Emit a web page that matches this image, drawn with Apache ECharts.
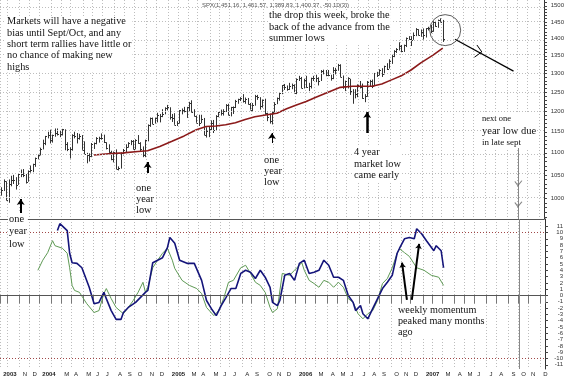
<!DOCTYPE html>
<html><head><meta charset="utf-8">
<script src="https://cdn.jsdelivr.net/npm/echarts@6/dist/echarts.min.js"></script>
<style>html,body{margin:0;padding:0;background:#fff}#c{width:567px;height:380px}</style>
</head><body><div id="c"></div>
<script>
// ---------- data ----------
const firstWeek = '2003-09-12';
const weekCount = 223;
const monthLetters = ['J','F','M','A','M','J','J','A','S','O','N','D'];
const priceTicks = [1000,1050,1100,1150,1200,1250,1300,1350,1400,1450,1500];
const momTicks = [-11,-10,-9,-8,-7,-6,-5,-4,-3,-2,-1,0,1,2,3,4,5,6,7,8,9,10,11];

const priceHigh = [1023,1040,1036,1040,1048,1050,1045,1054,1062,1063,1052,1060,1071,1075,1089,1096,
1112,1131,1140,1150,1155,1143,1158,1158,1152,1157,1156,1125,1113,1144,1150,1147,1145,1142,1127,1100,1099,1123,1124,1137,1138,1146,1143,1125,1120,1105,1103,1108,1069,1101,1109,1120,1125,1130,1130,1132,1142,1125,1115,1131,1168,1185,1185,1185,1197,1194,1206,1211,1217,
1211,1194,1196,1176,1204,1208,1212,1212,1225,1229,1206,1190,1192,1192,1184,1161,1164,1178,1179,1191,1199,1205,1206,1219,1220,1212,1213,1230,1233,1237,1245,1236,1235,1222,1222,1243,1243,1237,1231,1233,1197,1195,1200,1224,1236,1249,1269,1272,1268,1275,1273,1271,
1287,1294,1291,1286,1294,1275,1289,1294,1297,1290,1310,1311,1310,1310,1297,1318,1316,1327,1326,1295,1281,1290,1286,1258,1258,1271,1280,1273,1245,1280,1283,1284,1302,1305,1312,1315,1322,1329,1340,1353,1366,1372,1389,1381,1382,1403,1407,1407,1418,1431,1428,1427,
1430,1431,1435,1441,1452,1453,1457,1461,1456];
const priceLow = [1005,1015,995,990,1025,1030,1018,1028,1045,1045,1031,1035,1055,1056,1068,1085,
1094,1108,1118,1134,1122,1124,1138,1141,1137,1141,1106,1104,1087,1105,1134,1122,1131,1107,1096,1076,1080,1090,1109,1120,1124,1131,1123,1108,1100,1083,1078,1063,1060,1064,1094,1101,1112,1118,1108,1108,1121,1102,1090,1090,1127,1162,1169,1170,1173,1173,1186,1193,1203,
1180,1174,1167,1164,1170,1193,1198,1184,1199,1198,1188,1172,1164,1171,1142,1136,1137,1154,1147,1154,1186,1190,1190,1199,1191,1188,1194,1209,1220,1227,1223,1220,1218,1205,1200,1215,1230,1205,1210,1192,1176,1170,1168,1198,1219,1228,1245,1256,1254,1256,1258,1248,
1245,1280,1261,1260,1262,1253,1260,1280,1277,1268,1280,1298,1293,1293,1281,1285,1298,1308,1291,1259,1253,1260,1243,1220,1234,1237,1260,1233,1224,1238,1265,1261,1266,1291,1295,1291,1298,1310,1314,1327,1346,1358,1365,1360,1361,1375,1396,1378,1396,1407,1409,1405,
1397,1403,1424,1416,1420,1435,1432,1450,1390];
const priceClose = [1018,1036,996,1029,1039,1039,1028,1051,1053,1050,1035,1058,1061,1074,1088,1095,
1108,1122,1139,1141,1131,1142,1146,1144,1144,1156,1120,1110,1108,1141,1139,1134,1140,1107,1098,1095,1093,1121,1122,1136,1135,1134,1125,1112,1101,1086,1101,1064,1065,1099,1107,1113,1123,1128,1110,1131,1122,1108,1095,1130,1167,1184,1170,1183,1191,1189,1195,1210,1212,
1186,1184,1167,1171,1203,1205,1201,1211,1222,1200,1190,1172,1172,1181,1143,1152,1157,1172,1154,1190,1198,1197,1201,1217,1191,1211,1212,1228,1233,1234,1226,1231,1220,1205,1218,1241,1237,1215,1229,1196,1187,1177,1198,1220,1234,1248,1268,1265,1259,1267,1268,1248,
1285,1287,1261,1284,1264,1266,1287,1289,1287,1281,1307,1302,1295,1295,1289,1311,1310,1325,1291,1267,1280,1288,1253,1251,1245,1270,1265,1236,1240,1278,1280,1267,1302,1295,1311,1299,1320,1314,1336,1349,1365,1369,1377,1364,1380,1401,1400,1396,1409,1427,1410,1418,
1409,1430,1430,1422,1449,1438,1456,1451,1400];

const maIdx = [38,44,50,56,60,65,70,75,80,84,88,92,96,100,104,109,113,117,121,125,129,134,139,144,148,152,156,160,164,168,172,177,181];
const maVal = [1095,1098,1100,1103,1105,1115,1127,1140,1155,1163,1164,1167,1172,1180,1187,1192,1196,1207,1217,1226,1237,1250,1263,1266,1266,1266,1272,1283,1294,1310,1330,1352,1372];

const navyIdx = [23,24,27,28,29,31,33,36,38,40,42,43,45,47,49,50,52,55,57,59,60,62,64,66,68,69,71,73,76,79,82,84,86,88,90,92,94,96,98,100,102,104,106,108,110,111,113,114,116,118,120,122,124,126,128,130,132,134,136,138,140,142,144,145,147,148,150,152,154,156,158,160,162,163,165,167,169,170,172,174,177,178,180,181];
const navyVal = [10.3,11.4,10.3,6.7,5.2,5.1,4.4,1.3,-1.3,-1.1,0.5,-0.5,-2.4,-3.8,-3.8,-2.7,-1.9,-1.1,-0.3,0.5,0.8,5.2,5.6,6.0,7.6,9.2,8.3,5.6,5.1,5.1,2.4,-0.8,-2.1,-3.2,-1.6,-0.3,1.1,1.1,3.5,4.0,3.7,2.7,4.0,2.9,1.3,-1.1,-1.6,-0.8,3.2,3.5,2.4,5.1,5.6,3.5,3.7,4.0,5.6,4.8,2.9,2.9,2.4,0,-1.1,-2.4,-1.6,-2.9,-3.7,-2.1,-0.5,1.1,2.1,3.2,6.7,7.5,9.0,9.2,9.0,10.6,9.8,8.7,7.1,7.9,7.1,4.4];
const greenIdx = [15,17,19,21,22,25,27,28,29,30,32,35,38,40,42,43,45,47,50,52,54,56,58,59,60,62,64,66,68,70,71,74,77,80,82,84,87,89,91,93,95,98,100,102,104,106,108,110,111,113,115,118,120,122,123,124,126,128,130,132,134,136,138,140,142,144,146,148,150,152,154,156,158,160,162,163,165,167,170,173,176,179,181];
const greenVal = [4.0,5.6,6.8,8.7,7.9,7.5,6.7,4.4,1.6,0.8,0.5,-1.3,-2.7,-2.4,0.3,1.1,-0.5,-1.9,-2.9,-1.9,-0.8,0.5,2.1,0.5,1.3,4.4,5.6,6.7,7.5,5.6,4.3,2.4,1.6,1.1,0.3,-1.9,-3.2,-2.4,-0.5,2.1,2.4,4.4,4.8,3.5,2.1,1.6,0.5,-1.9,-2.7,-2.1,3.5,3.2,4.0,4.8,5.2,4.0,2.4,1.9,1.3,2.4,2.1,1.3,2.1,1.3,-0.5,-1.1,-2.9,-3.7,-2.9,-2.4,-0.8,1.9,2.7,4.4,6.7,7.4,6.8,6.2,4.4,4.0,3.2,2.9,1.6];

// hand-drawn annotations (week index, price / momentum value)
const lowArrows = [[8,969,998,2],[60,1054,1079,2],[111,1123,1147,1],[150,1147,1199,2.5]];
const projection = [[186,1398],[210,1307]];
const projHead = [[[194.5,1381],[196.9,1361]],[[193.9,1346],[196.9,1361]]];
const circleAt = [182,1425];
const momArrows = [[165.5,-0.7,163.8,5.2],[168.4,-0.7,170.8,8.2]];
const dueWeek = 212, dueTop = 1123;
const dueMarks = [1032,987];

const titleText = 'SPX(1,451.16, 1,461.57, 1,389.83, 1,400.37, -50.10(3))';

// ---------- build ----------
const L = Math.log;
const PMIN = 956.7, PMAX = 1518.5;
const MMIN = -11.67, MMAX = 12.14;
const cats = [];
{ let t = Date.UTC(2003,8,12); for (let k=0;k<weekCount;k++){ cats.push(new Date(t).toISOString().slice(0,10)); t += 7*86400000; } }
const mon = i => +cats[i].slice(5,7)-1;
const isMonthStart = i => i===0 || mon(i)!==mon(i-1);
const showLabel = i => isMonthStart(i) && !(i>0 && i<5) && mon(i)!==1;
const minorTicks = []; for (let p=960;p<=1510;p+=10) minorTicks.push(L(p));

const gridDot = {color:'#bdbdbd', type:[1,2], width:1};
const serif = '"Liberation Serif", "Times New Roman", serif';

const chart = echarts.init(document.getElementById('c'), null, {renderer:'canvas'});
const txt = (x,y,text,size,lh,extra) => Object.assign({type:'text', x, y, z:100, style:{text, font: size+'px '+serif, fill:'#111', lineHeight: lh, backgroundColor:'#fff', padding:[0,1,0,1]}}, extra||{});
const ink = (w,c) => ({color:c||'#000', width:w, opacity:1, curveness:0});

chart.setOption({
  animation:false,
  backgroundColor:'#fff',
  grid:[{left:0, top:0, width:545, height:219}, {left:0, top:219, width:545, height:150}],
  xAxis:[
    {type:'category', gridIndex:0, data:cats, boundaryGap:true,
     axisLabel:{show:false}, axisTick:{show:false},
     axisLine:{show:true, lineStyle:{color:'#555', width:1}},
     splitLine:{show:true, interval:(i)=>isMonthStart(i), lineStyle:gridDot}},
    {type:'category', gridIndex:1, data:cats, boundaryGap:true,
     axisLine:{show:false},
     axisTick:{show:true, interval:(i)=>isMonthStart(i), length:8, lineStyle:{color:'#777'}},
     splitLine:{show:true, interval:(i)=>isMonthStart(i), lineStyle:gridDot},
     axisLabel:{show:true, interval:(i)=>showLabel(i), align:'left', margin:2, padding:[0,0,0,2],
       fontSize:6, fontFamily:'Liberation Sans', color:'#222',
       formatter:(v,i)=>{ const m=+v.slice(5,7)-1; if(i===0||m===0) return '{b|'+v.slice(0,4)+'}'; return monthLetters[m]; },
       rich:{b:{fontWeight:'bold', fontSize:6, fontFamily:'Liberation Sans', color:'#222'}}}}
  ],
  yAxis:[
    {type:'value', gridIndex:0, position:'right', min:L(PMIN), max:L(PMAX),
     axisLine:{show:true, lineStyle:{color:'#333'}},
     axisTick:{show:true, customValues:minorTicks, length:3, lineStyle:{color:'#444'}},
     axisLabel:{show:true, customValues:priceTicks.map(L), formatter:v=>String(Math.round(Math.exp(v))),
       fontSize:6, fontFamily:'Liberation Sans', color:'#333', align:'right', margin:20},
     splitLine:{show:false}},
    {type:'value', gridIndex:1, position:'right', min:MMIN, max:MMAX,
     axisLine:{show:true, lineStyle:{color:'#333'}},
     axisTick:{show:true, customValues:momTicks, length:3, lineStyle:{color:'#444'}},
     axisLabel:{show:true, customValues:momTicks, fontSize:6, fontFamily:'Liberation Sans', color:'#333', align:'right', margin:18},
     splitLine:{show:false}}
  ],
  series:[
    {type:'custom', name:'SPX', xAxisIndex:0, yAxisIndex:0,
     data: priceHigh.map((h,i)=>[i, L(priceLow[i]), L(h), L(priceClose[i])]),
     encode:{x:0, y:[1,2]},
     renderItem:(params, api)=>{
       const x = api.value(0);
       const lo = api.coord([x, api.value(1)]);
       const hi = api.coord([x, api.value(2)]);
       const cl = api.coord([x, api.value(3)]);
       const cx = Math.round(lo[0]) + 0.5;
       const cy = Math.round(cl[1]) + 0.5;
       return {type:'group', children:[
         {type:'line', shape:{x1:cx, y1:lo[1], x2:cx, y2:hi[1]}, style:{stroke:'#333', lineWidth:1}},
         {type:'line', shape:{x1:cx, y1:cy, x2:cx+1.5, y2:cy}, style:{stroke:'#333', lineWidth:1}}
       ]};
     },
     markLine:{silent:true, symbol:'none', label:{show:false}, lineStyle:gridDot, animation:false,
       data: priceTicks.map(p=>({yAxis:L(p)}))}
    },
    {type:'line', name:'MA', xAxisIndex:0, yAxisIndex:0, showSymbol:false,
     data: maIdx.map((j,k)=>[j, L(maVal[k])]), lineStyle:{color:'#8b1a1a', width:1.6}},
    {type:'line', name:'green', xAxisIndex:1, yAxisIndex:1, showSymbol:false,
     data: greenIdx.map((j,k)=>[j, greenVal[k]]), lineStyle:{color:'#5f9a55', width:1}},
    {type:'line', name:'navy', xAxisIndex:1, yAxisIndex:1, showSymbol:false, z:3,
     data: navyIdx.map((j,k)=>[j, navyVal[k]]), lineStyle:{color:'#14147a', width:1.6},
     markLine:{silent:true, symbol:'none', label:{show:false}, animation:false,
       data:[{yAxis:0, lineStyle:{color:'#555', type:'solid', width:1}},
             {yAxis:10, lineStyle:{color:'#a04848', type:[1,2], width:1}},
             {yAxis:-10, lineStyle:{color:'#a04848', type:[1,2], width:1}}]}},
    // annotations on price panel
    {type:'lines', coordinateSystem:'cartesian2d', xAxisIndex:0, yAxisIndex:0, z:5, silent:true,
     symbol:['none','arrow'], symbolSize:6, lineStyle:{opacity:1},
     data: lowArrows.map(a=>({coords:[[a[0],L(a[1])],[a[0],L(a[2])]], lineStyle:ink(a[3])}))},
    {type:'lines', coordinateSystem:'cartesian2d', xAxisIndex:0, yAxisIndex:0, z:5, silent:true,
     symbol:'none', lineStyle:{opacity:1},
     data: [{coords: projection.map(p=>[p[0],L(p[1])]), lineStyle:ink(1.2)}]
       .concat(projHead.map(s=>({coords:s.map(p=>[p[0],L(p[1])]), lineStyle:ink(1)})))
       .concat([{coords:[[dueWeek,L(dueTop)],[dueWeek,L(PMIN)]], lineStyle:ink(1,'#888')}])},
    {type:'scatter', xAxisIndex:0, yAxisIndex:0, z:5, silent:true,
     data:[[circleAt[0], L(circleAt[1])]], symbol:'circle', symbolSize:31,
     itemStyle:{color:'rgba(0,0,0,0)', borderColor:'#333', borderWidth:1}},
    {type:'scatter', xAxisIndex:0, yAxisIndex:0, z:5, silent:true,
     data: dueMarks.map(p=>[dueWeek, L(p)]), symbol:'path://M0,0L3,5L7,-1', symbolSize:[7,5],
     itemStyle:{color:'rgba(0,0,0,0)', borderColor:'#666', borderWidth:1}},
    // annotations on momentum panel
    {type:'lines', coordinateSystem:'cartesian2d', xAxisIndex:1, yAxisIndex:1, z:5, silent:true,
     symbol:['none','arrow'], symbolSize:5, lineStyle:{opacity:1},
     data: momArrows.map(a=>({coords:[[a[0],a[1]],[a[2],a[3]]], lineStyle:ink(2)}))},
    {type:'lines', coordinateSystem:'cartesian2d', xAxisIndex:1, yAxisIndex:1, z:5, silent:true,
     symbol:'none', lineStyle:{opacity:1},
     data:[{coords:[[dueWeek,MMAX],[dueWeek,MMIN]], lineStyle:ink(1,'#888')}]}
  ],
  graphic:[
    {type:'text', x:202, y:2, z:100, style:{text:titleText, font:'6px "Liberation Sans"', fill:'#555'}},
    txt(6, 16, 'Markets will have a negative\nbias until Sept/Oct, and any\nshort term rallies have little or\nno chance of making new\nhighs', 10.3, 11.3),
    txt(268, 10, 'the drop this week, broke the\nback of the advance from the\nsummer lows', 10.4, 11.5),
    txt(8, 213, 'one\nyear\nlow', 10.4, 12.5),
    txt(135, 183, 'one\nyear\nlow', 10.4, 11),
    txt(263, 155, 'one\nyear\nlow', 10.4, 10.8),
    txt(353, 147, '4 year\nmarket low\ncame early', 10.4, 11.5),
    {type:'text', x:482, y:113, z:100, style:{text:'{a|next one}\n{b|year low due}\n{c|in late sept}', fill:'#111', backgroundColor:'#fff',
      rich:{a:{font:'8.5px '+serif, lineHeight:12, fill:'#111'}, b:{font:'10.5px '+serif, lineHeight:12, fill:'#111'}, c:{font:'9px '+serif, lineHeight:11, fill:'#111'}}}},
    txt(397, 305, 'weekly momentum\npeaked many months\nago', 10.2, 11)
  ]
});
</script>
</body></html>
